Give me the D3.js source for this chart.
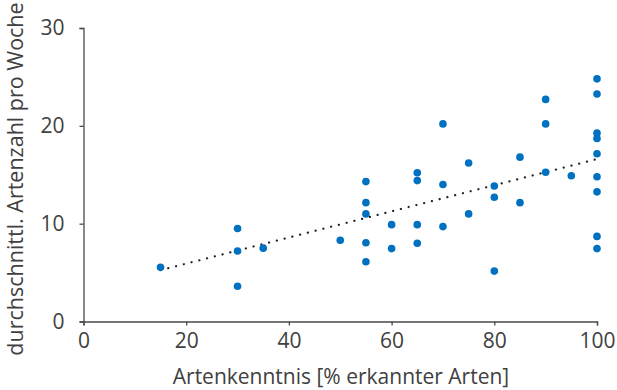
<html>
<head>
<meta charset="utf-8">
<script src="https://d3js.org/d3.v7.min.js"></script>
<style>
body { margin: 0; background: #fff; }
text { font-family: "Open Sans", "Noto Sans", sans-serif; }
</style>
</head>
<body>
<svg id="chart"></svg>
<script>
// Artenkenntnis (% erkannter Arten) per person
var knowledge = [15, 30, 30, 30, 35, 50, 55, 55, 55, 55, 55, 60, 60, 65, 65, 65, 65,
                 70, 70, 70, 75, 75, 80, 80, 80, 85, 85, 90, 90, 90, 95,
                 100, 100, 100, 100, 100, 100, 100, 100, 100];
// durchschnittl. Artenzahl pro Woche
var speciesPerWeek = [5.55, 9.5, 7.2, 3.6, 7.5, 8.3, 14.3, 12.15, 11.0, 8.05, 6.1, 9.9, 7.45, 15.2, 14.4, 9.9, 8.0,
                      20.2, 14.0, 9.7, 16.2, 11.0, 13.85, 12.7, 5.15, 16.8, 12.15, 22.7, 20.2, 15.25, 14.9,
                      24.8, 23.25, 19.25, 18.7, 17.15, 14.8, 13.25, 8.7, 7.45];
// linear trend line (as shown in the chart)
var trendX = [15, 100];
var trendY = [5.25, 16.6];
var xTicks = [0, 20, 40, 60, 80, 100];
var yTicks = [0, 10, 20, 30];

var width = 617, height = 390;
var svg = d3.select("#chart").attr("width", width).attr("height", height);

var x = d3.scaleLinear().domain([0, 100]).range([83.5, 597]);
var y = d3.scaleLinear().domain([0, 30]).range([321.5, 28]);

var data = knowledge.map(function(k, i) { return {x: k, y: speciesPerWeek[i]}; });

// axes
var gx = svg.append("g")
    .attr("transform", "translate(0," + y(0) + ")")
    .call(d3.axisBottom(x).tickValues(xTicks).tickSize(4).tickPadding(8));
var gy = svg.append("g")
    .attr("transform", "translate(" + x(0) + ",0)")
    .call(d3.axisLeft(y).tickValues(yTicks).tickSize(4).tickPadding(15));
[gx, gy].forEach(function(g) {
  g.select(".domain").attr("stroke", "#4a4a4a").attr("stroke-width", 1.3);
  g.selectAll(".tick line").attr("stroke", "#4a4a4a").attr("stroke-width", 1.3);
  g.selectAll(".tick text").attr("fill", "#404040").style("font-size", "21px")
    .style("font-family", "'Open Sans', sans-serif");
});

// trend line
svg.append("line")
    .attr("x1", x(trendX[0])).attr("y1", y(trendY[0]))
    .attr("x2", x(trendX[1])).attr("y2", y(trendY[1]))
    .attr("stroke", "#222")
    .attr("stroke-width", 2.2)
    .attr("stroke-linecap", "round")
    .attr("stroke-dasharray", "0.1,7.9");

// points
svg.selectAll(".pt")
    .data(data)
    .enter().append("circle")
    .attr("class", "pt")
    .attr("cx", function(d) { return x(d.x); })
    .attr("cy", function(d) { return y(d.y); })
    .attr("r", 3.8)
    .attr("fill", "#0070C0");

// axis titles
svg.append("text")
    .attr("x", 341).attr("y", 384)
    .attr("text-anchor", "middle")
    .attr("fill", "#404040")
    .style("font-size", "21px")
    .text("Artenkenntnis [% erkannter Arten]");
svg.append("text")
    .attr("transform", "translate(23," + 179 + ") rotate(-90)")
    .attr("text-anchor", "middle")
    .attr("fill", "#404040")
    .style("font-size", "21.5px")
    .text("durchschnittl. Artenzahl pro Woche");
</script>
</body>
</html>
